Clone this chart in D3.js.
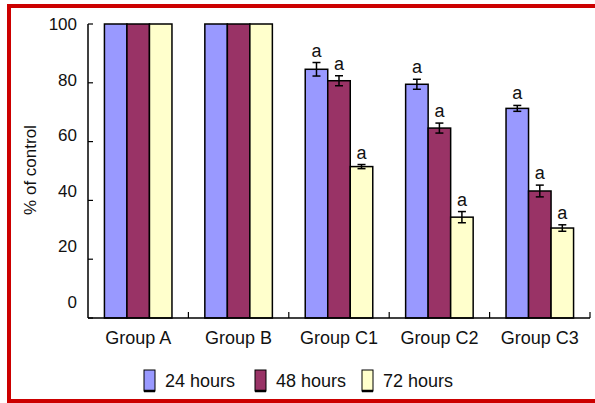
<!DOCTYPE html>
<html><head><meta charset="utf-8">
<script src="https://cdn.jsdelivr.net/npm/d3@7"></script>
<style>body{margin:0;background:#fff}svg{display:block}text{font-family:"Liberation Sans",Arial,sans-serif;fill:#111}</style>
</head><body>
<script>
const groups = ["Group A","Group B","Group C1","Group C2","Group C3"];
const seriesNames = ["24 hours","48 hours","72 hours"];
const colors = ["#9999FF","#993366","#FFFFCC"];
const v24 = [100,100,84.6,79.5,71.3];
const v48 = [100,100,80.7,64.6,43.2];
const v72 = [100,100,51.5,34.3,30.6];
const e24 = [0,0,2.3,1.7,1.0];
const e48 = [0,0,1.7,1.7,2.0];
const e72 = [0,0,0.7,1.9,1.1];
const sig24 = ["","","a","a","a"];
const sig48 = ["","","a","a","a"];
const sig72 = ["","","a","a","a"];
const yTicks = [0,20,40,60,80,100];
const yTitle = "% of control";

const W=595,H=403;
const svg=d3.select("body").append("svg").attr("width",W).attr("height",H);
svg.append("rect").attr("x",9).attr("y",6).attr("width",W+20).attr("height",395)
  .attr("fill","none").attr("stroke","#CC0000").attr("stroke-width",4);

const L=88,R=590,T=24,B=318;
const y=d3.scaleLinear().domain([0,100]).range([B,T]);
const yLab=d3.scaleLinear().domain([0,100]).range([302,24]);
const x0=d3.scaleBand().domain(groups).range([L,R]).padding(0);
const x1=d3.scaleBand().domain(seriesNames).range([0,x0.bandwidth()]).paddingInner(0).paddingOuter(0.73);

const vals=[v24,v48,v72], errs=[e24,e48,e72], sigs=[sig24,sig48,sig72];
const data=[];
groups.forEach((g,i)=>seriesNames.forEach((s,j)=>data.push({g,s,j,v:vals[j][i],e:errs[j][i],sig:sigs[j][i]})));

// bars
svg.append("g").selectAll("rect").data(data).join("rect")
  .attr("x",d=>x0(d.g)+x1(d.s)).attr("y",d=>y(d.v))
  .attr("width",x1.bandwidth()).attr("height",d=>y(0)-y(d.v))
  .attr("fill",d=>colors[d.j]).attr("stroke","#000").attr("stroke-width",1.5);

// error bars
const eb=svg.append("g").attr("stroke","#000").attr("stroke-width",1.5);
data.filter(d=>d.e>0).forEach(d=>{
  const cx=x0(d.g)+x1(d.s)+x1.bandwidth()/2;
  eb.append("line").attr("x1",cx).attr("x2",cx).attr("y1",y(d.v+d.e)).attr("y2",y(d.v-d.e));
  eb.append("line").attr("x1",cx-4).attr("x2",cx+4).attr("y1",y(d.v+d.e)).attr("y2",y(d.v+d.e));
  eb.append("line").attr("x1",cx-4).attr("x2",cx+4).attr("y1",y(d.v-d.e)).attr("y2",y(d.v-d.e));
});
svg.append("g").selectAll("text").data(data.filter(d=>d.sig)).join("text")
  .attr("x",d=>x0(d.g)+x1(d.s)+x1.bandwidth()/2).attr("y",d=>y(d.v+d.e)-6)
  .attr("text-anchor","middle").attr("font-size",18).text(d=>d.sig);

// y axis
const ya=svg.append("g");
ya.append("line").attr("x1",L).attr("x2",L).attr("y1",T).attr("y2",B).attr("stroke","#000").attr("stroke-width",1.5);
ya.selectAll("line.t").data(yTicks).join("line").attr("class","t")
  .attr("x1",L).attr("x2",L+5).attr("y1",d=>y(d)).attr("y2",d=>y(d)).attr("stroke","#000").attr("stroke-width",1.2);
ya.selectAll("text").data(yTicks).join("text")
  .attr("x",77).attr("y",d=>yLab(d)).attr("dy","0.35em").attr("text-anchor","end").attr("font-size",17).text(d=>d);
svg.append("text").attr("transform","translate(36,170) rotate(-90)").attr("text-anchor","middle")
  .attr("font-size",17).text(yTitle);

// x axis
const xa=svg.append("g");
xa.append("line").attr("x1",L).attr("x2",R).attr("y1",B).attr("y2",B).attr("stroke","#000").attr("stroke-width",1.5);
xa.selectAll("line.t").data(groups).join("line").attr("class","t")
  .attr("x1",d=>x0(d)+x0.bandwidth()).attr("x2",d=>x0(d)+x0.bandwidth()).attr("y1",B).attr("y2",B-6)
  .attr("stroke","#000").attr("stroke-width",1.2);
xa.selectAll("text").data(groups).join("text")
  .attr("x",d=>x0(d)+x0.bandwidth()/2).attr("y",344).attr("text-anchor","middle").attr("font-size",18).text(d=>d);

// legend
const legX=d3.scaleOrdinal().domain(seriesNames).range([144,255,362]);
const lg=svg.append("g").selectAll("g").data(seriesNames).join("g").attr("transform",d=>`translate(${legX(d)},370)`);
lg.append("rect").attr("width",11).attr("height",21).attr("fill",(d,i)=>colors[i]).attr("stroke","#000").attr("stroke-width",1);
lg.append("line").attr("x1",0).attr("x2",11).attr("y1",21).attr("y2",21).attr("stroke","#000").attr("stroke-width",2.5);
lg.append("text").attr("x",21).attr("y",17).attr("font-size",18).text(d=>d);
</script>
</body></html>
